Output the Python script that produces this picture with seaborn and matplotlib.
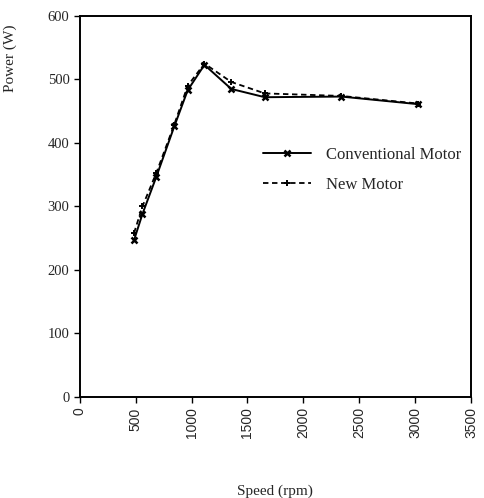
import pandas as pd
import matplotlib
matplotlib.use("Agg")
import matplotlib.pyplot as plt
import seaborn as sns

# values
speed = [485, 560, 685, 845, 965, 1115, 1355, 1655, 2340, 3030]
conventional = [247, 288, 347, 426, 483, 523, 485, 472, 473, 461]
new_motor = [258, 300, 353, 429, 490, 525, 496, 478, 474, 462]

df = pd.DataFrame({"speed": speed, "conventional": conventional, "new": new_motor})

sns.set_style("ticks")
plt.rcParams['font.family'] = ['Liberation Serif', 'DejaVu Serif']

fig = plt.figure(figsize=(4.84, 4.98), dpi=100)
ax = fig.add_axes([0.165, 0.203, 0.808, 0.765])

# conventional motor: solid line with x markers
# (seaborn paints marker edges white by default, so force black)
sns.lineplot(data=df, x="speed", y="conventional", sort=False, color="black",
             linestyle="-", linewidth=1.4, marker="x", markersize=5,
             markeredgewidth=1.8, markeredgecolor="black",
             label="Conventional Motor", ax=ax)
# new motor: dashed line with + markers
sns.lineplot(data=df, x="speed", y="new", sort=False, color="black",
             linestyle=(0, (3, 2)), linewidth=1.3, marker="+", markersize=5,
             markeredgewidth=1.4, markeredgecolor="black",
             label="New Motor", ax=ax)

ax.set_xlim(0, 3500)
ax.set_ylim(0, 600)
ax.set_xticks(range(0, 3501, 500))
ax.set_yticks(range(0, 601, 100))
for lab in ax.get_xticklabels():
    lab.set_rotation(90)
    lab.set_family(['Liberation Sans', 'DejaVu Sans'])
    lab.set_fontsize(10)
for lab in ax.get_yticklabels():
    lab.set_fontsize(10.5)
ax.tick_params(direction="out", length=4, width=1, color="black")
for sp in ax.spines.values():
    sp.set_color("black")
    sp.set_linewidth(1.4)

ax.set_xlabel("Speed (rpm)", fontsize=11)
ax.set_ylabel("Power (W)", fontsize=11)
ax.xaxis.set_label_coords(0.5, -0.23)
ax.yaxis.set_label_coords(-0.16, 0.89)

ax.legend(loc="center left", bbox_to_anchor=(0.43, 0.595), frameon=False,
          fontsize=12, handlelength=2.9, handletextpad=0.85,
          labelspacing=0.85, numpoints=1)

fig.savefig("out.png", dpi=100)
